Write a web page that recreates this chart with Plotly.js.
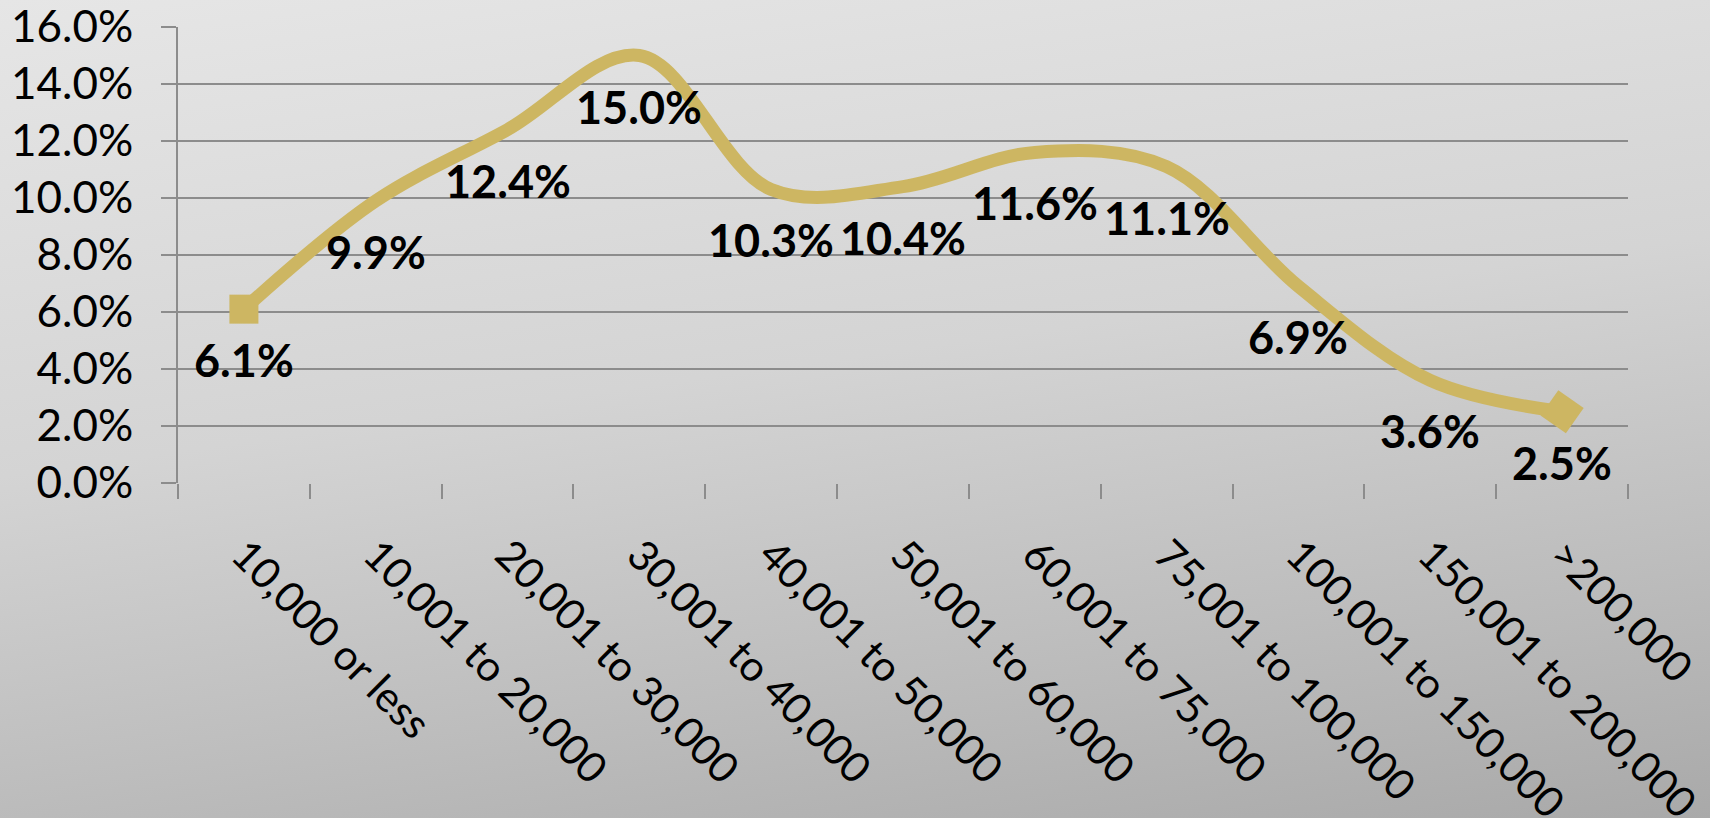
<!DOCTYPE html>
<html>
<head>
<meta charset="utf-8">
<script src="https://cdn.plot.ly/plotly-3.0.1.min.js"></script>
<style>
  html, body { margin: 0; padding: 0; }
  body {
    width: 1710px; height: 818px; overflow: hidden;
    background: linear-gradient(172deg, #e6e6e6 0%, #d4d4d4 45%, #bdbdbd 75%, #a9a9a9 100%);
  }
  #chart { width: 1710px; height: 818px; }
</style>
</head>
<body>
<div id="chart"></div>
<script>
// ---- data ----
const categories = [
  "10,000 or less", "10,001 to 20,000", "20,001 to 30,000", "30,001 to 40,000",
  "40,001 to 50,000", "50,001 to 60,000", "60,001 to 75,000", "75,001 to 100,000",
  "100,001 to 150,000", "150,001 to 200,000", ">200,000"
];
const shareValues = [6.1, 9.9, 12.4, 15.0, 10.3, 10.4, 11.6, 11.1, 6.9, 3.6, 2.5];
const yTickValues = [0, 2, 4, 6, 8, 10, 12, 14, 16];

// ---- styling ----
const lineColor = "#CDB662";
const gridColor = "#8c8c8c";
const fontFamily = "Lato, 'Open Sans', sans-serif";
const last = shareValues.length - 1;

const markerSizes = shareValues.map((v, i) => (i === 0) ? 29 : (i === last ? 31 : 0));
const markerAngles = shareValues.map((v, i) => (i === last) ? 35 : 0);

const trace = {
  type: 'scatter',
  mode: 'lines+markers',
  x: categories,
  y: shareValues,
  line: { color: lineColor, width: 13, shape: 'spline', smoothing: 1 },
  marker: { color: lineColor, opacity: 1, size: markerSizes, symbol: 'square', angle: markerAngles,
            line: { width: 0 } },
  opacity: 1,
  hoverinfo: 'skip',
  cliponaxis: false
};

const annotations = shareValues.map((v, i) => ({
  x: categories[i],
  y: v,
  xref: 'x', yref: 'y',
  text: v.toFixed(1) + '%',
  showarrow: false,
  yanchor: 'middle',
  xanchor: 'center',
  yshift: -51,
  font: { family: fontFamily, size: 45, color: '#000000', weight: 'bold' }
}));

const layout = {
  width: 1710,
  height: 818,
  margin: { l: 178, r: 82, t: 27, b: 335 },
  paper_bgcolor: 'rgba(0,0,0,0)',
  plot_bgcolor: 'rgba(0,0,0,0)',
  showlegend: false,
  font: { family: fontFamily, color: '#000000' },
  xaxis: {
    type: 'category',
    showgrid: false,
    zeroline: false,
    showline: false,
    ticks: 'outside',
    tickson: 'boundaries',
    ticklen: 15,
    tickwidth: 2,
    tickcolor: gridColor,
    tickangle: 45,
    ticklabelstandoff: 38,
    ticklabeloverflow: 'allow',
    tickfont: { family: fontFamily, size: 42, color: '#000000' },
    range: [-0.5, categories.length - 0.5]
  },
  yaxis: {
    range: [0, 16],
    tickvals: yTickValues,
    ticktext: yTickValues.map(v => v.toFixed(1) + '%'),
    showgrid: true,
    gridcolor: gridColor,
    gridwidth: 2,
    zeroline: false,
    showline: true,
    linecolor: gridColor,
    linewidth: 2,
    ticks: 'outside',
    ticklen: 15,
    tickwidth: 2,
    tickcolor: gridColor,
    ticklabelstandoff: 19,
    ticklabeloverflow: 'allow',
    tickfont: { family: fontFamily, size: 44, color: '#000000' }
  },
  annotations: annotations
};

Plotly.newPlot('chart', [trace], layout, { displayModeBar: false, staticPlot: true });
</script>
</body>
</html>
